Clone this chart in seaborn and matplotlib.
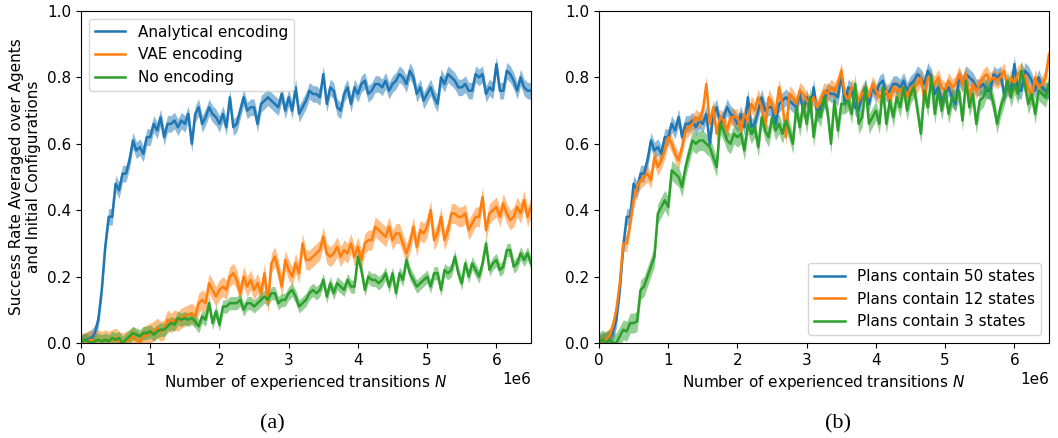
import numpy as np
import pandas as pd
import matplotlib
matplotlib.use("Agg")
import matplotlib.pyplot as plt
import seaborn as sns

# x grid: one evaluation every 50k transitions, 0 .. 6.5e6
steps = np.linspace(0, 6.5e6, 131)

# ---- panel (a) ----
analytical = [
    0.00, 0.005, 0.01, 0.015, 0.03, 0.07, 0.16, 0.29, 0.38, 0.38,
    0.48, 0.46, 0.51, 0.51, 0.55, 0.61, 0.58, 0.59, 0.57, 0.62,
    0.62, 0.66, 0.64, 0.68, 0.62, 0.66, 0.66, 0.67, 0.65, 0.67,
    0.66, 0.69, 0.60, 0.69, 0.71, 0.66, 0.68, 0.71, 0.69, 0.68,
    0.66, 0.69, 0.65, 0.74, 0.65, 0.66, 0.70, 0.74, 0.70, 0.71,
    0.71, 0.66, 0.72, 0.73, 0.74, 0.73, 0.72, 0.71, 0.75, 0.70,
    0.74, 0.70, 0.77, 0.69, 0.71, 0.73, 0.76, 0.75, 0.75, 0.74,
    0.81, 0.72, 0.77, 0.76, 0.71, 0.70, 0.75, 0.77, 0.72, 0.77,
    0.75, 0.78, 0.79, 0.75, 0.76, 0.78, 0.78, 0.77, 0.79, 0.76,
    0.78, 0.79, 0.81, 0.80, 0.78, 0.82, 0.80, 0.75, 0.77, 0.73,
    0.75, 0.77, 0.74, 0.72, 0.80, 0.78, 0.81, 0.80, 0.79, 0.77,
    0.77, 0.78, 0.76, 0.76, 0.81, 0.80, 0.81, 0.75, 0.77, 0.76,
    0.84, 0.76, 0.76, 0.82, 0.81, 0.79, 0.76, 0.80, 0.77, 0.76,
    0.76,
]
vae = [
    0.00, 0.00, 0.005, 0.01, 0.005, 0.01, 0.005, 0.01, 0.005, 0.01,
    0.015, 0.005, 0.00, 0.005, 0.01, 0.02, 0.01, 0.00, 0.02, 0.025,
    0.03, 0.035, 0.045, 0.035, 0.04, 0.07, 0.06, 0.07, 0.065, 0.075,
    0.08, 0.085, 0.09, 0.08, 0.12, 0.13, 0.12, 0.18, 0.16, 0.14,
    0.16, 0.17, 0.16, 0.20, 0.21, 0.19, 0.15, 0.20, 0.17, 0.19,
    0.16, 0.18, 0.15, 0.21, 0.12, 0.24, 0.26, 0.22, 0.17, 0.25,
    0.22, 0.20, 0.24, 0.21, 0.30, 0.25, 0.25, 0.26, 0.27, 0.28,
    0.32, 0.27, 0.26, 0.27, 0.29, 0.26, 0.28, 0.27, 0.30, 0.26,
    0.29, 0.25, 0.30, 0.31, 0.31, 0.35, 0.34, 0.33, 0.32, 0.35,
    0.31, 0.33, 0.33, 0.30, 0.27, 0.30, 0.35, 0.29, 0.34, 0.33,
    0.35, 0.40, 0.31, 0.33, 0.38, 0.31, 0.34, 0.39, 0.39, 0.38,
    0.38, 0.39, 0.34, 0.36, 0.38, 0.38, 0.44, 0.34, 0.39, 0.40,
    0.41, 0.38, 0.42, 0.39, 0.37, 0.38, 0.41, 0.39, 0.43, 0.38,
    0.41,
]
no_enc = [
    0.00, 0.01, 0.005, 0.00, 0.005, 0.01, 0.005, 0.01, 0.005, 0.015,
    0.01, 0.015, 0.00, 0.01, 0.02, 0.03, 0.025, 0.02, 0.03, 0.03,
    0.035, 0.025, 0.035, 0.04, 0.04, 0.05, 0.06, 0.055, 0.075, 0.07,
    0.075, 0.07, 0.075, 0.065, 0.05, 0.08, 0.07, 0.12, 0.06, 0.095,
    0.055, 0.11, 0.11, 0.12, 0.12, 0.12, 0.13, 0.10, 0.12, 0.12,
    0.11, 0.12, 0.13, 0.14, 0.13, 0.15, 0.15, 0.12, 0.13, 0.13,
    0.15, 0.16, 0.14, 0.11, 0.12, 0.13, 0.15, 0.16, 0.15, 0.16,
    0.19, 0.14, 0.18, 0.15, 0.18, 0.17, 0.16, 0.19, 0.17, 0.17,
    0.26, 0.22, 0.16, 0.20, 0.19, 0.19, 0.18, 0.19, 0.21, 0.17,
    0.21, 0.15, 0.21, 0.19, 0.25, 0.21, 0.19, 0.17, 0.18, 0.19,
    0.20, 0.17, 0.21, 0.21, 0.16, 0.22, 0.21, 0.22, 0.26, 0.21,
    0.18, 0.24, 0.20, 0.24, 0.22, 0.20, 0.24, 0.30, 0.22, 0.24,
    0.25, 0.22, 0.23, 0.28, 0.28, 0.23, 0.24, 0.27, 0.25, 0.27,
    0.24,
]

# ---- panel (b) ----  (50-state run is the analytical run from panel a)
plans50 = analytical
plans12 = [
    0.00, 0.00, 0.01, 0.02, 0.05, 0.10, 0.18, 0.30, 0.30, 0.36,
    0.43, 0.47, 0.49, 0.50, 0.51, 0.49, 0.56, 0.53, 0.55, 0.58,
    0.62, 0.60, 0.57, 0.55, 0.59, 0.64, 0.65, 0.66, 0.68, 0.67,
    0.70, 0.78, 0.66, 0.71, 0.63, 0.68, 0.67, 0.64, 0.68, 0.68,
    0.68, 0.64, 0.69, 0.67, 0.72, 0.70, 0.74, 0.71, 0.65, 0.74,
    0.72, 0.69, 0.77, 0.72, 0.62, 0.75, 0.74, 0.72, 0.76, 0.75,
    0.73, 0.72, 0.74, 0.71, 0.73, 0.76, 0.75, 0.77, 0.76, 0.78,
    0.82, 0.75, 0.73, 0.77, 0.76, 0.73, 0.75, 0.76, 0.74, 0.78,
    0.76, 0.74, 0.75, 0.76, 0.73, 0.77, 0.76, 0.76, 0.77, 0.74,
    0.77, 0.77, 0.78, 0.80, 0.73, 0.80, 0.79, 0.78, 0.80, 0.77,
    0.76, 0.79, 0.77, 0.78, 0.81, 0.78, 0.81, 0.74, 0.78, 0.76,
    0.78, 0.80, 0.81, 0.79, 0.80, 0.79, 0.80, 0.82, 0.77, 0.80,
    0.78, 0.81, 0.82, 0.80, 0.77, 0.74, 0.80, 0.77, 0.78, 0.80,
    0.87,
]
plans3 = [
    0.00, 0.01, 0.00, 0.01, 0.00, 0.00, 0.02, 0.04, 0.035, 0.06,
    0.06, 0.065, 0.16, 0.17, 0.20, 0.23, 0.26, 0.39, 0.41, 0.43,
    0.41, 0.52, 0.51, 0.50, 0.47, 0.53, 0.57, 0.61, 0.60, 0.61,
    0.61, 0.60, 0.59, 0.56, 0.53, 0.66, 0.64, 0.61, 0.60, 0.63,
    0.62, 0.63, 0.58, 0.66, 0.63, 0.65, 0.59, 0.68, 0.64, 0.62,
    0.68, 0.64, 0.66, 0.63, 0.67, 0.64, 0.60, 0.71, 0.65, 0.72,
    0.66, 0.74, 0.62, 0.70, 0.68, 0.74, 0.70, 0.60, 0.73, 0.64,
    0.72, 0.72, 0.73, 0.69, 0.78, 0.66, 0.68, 0.77, 0.66, 0.68,
    0.70, 0.66, 0.77, 0.66, 0.73, 0.68, 0.74, 0.71, 0.77, 0.70,
    0.75, 0.77, 0.70, 0.63, 0.76, 0.71, 0.80, 0.69, 0.76, 0.70,
    0.76, 0.69, 0.74, 0.73, 0.76, 0.67, 0.79, 0.71, 0.75, 0.66,
    0.73, 0.74, 0.77, 0.76, 0.72, 0.66, 0.71, 0.74, 0.79, 0.74,
    0.78, 0.75, 0.82, 0.78, 0.72, 0.75, 0.69, 0.76, 0.75, 0.74,
    0.78,
]

# half width of the shaded band (spread over agents / configurations)
spread_a = [0.025, 0.03, 0.02]
spread_b = [0.025, 0.025, 0.03]

labels_a = ["Analytical encoding", "VAE encoding", "No encoding"]
labels_b = ["Plans contain 50 states", "Plans contain 12 states", "Plans contain 3 states"]
colors = ["#1f77b4", "#ff7f0e", "#2ca02c"]

FS = 11

fig = plt.figure(figsize=(10.58, 4.38), dpi=100)
ax_a = fig.add_axes([81 / 1058, 1 - 343 / 438, 450 / 1058, 332 / 438])
ax_b = fig.add_axes([599 / 1058, 1 - 343 / 438, 450 / 1058, 332 / 438])


def draw_panel(ax, series, labels, spreads):
    for y, lab, c, s in zip(series, labels, colors, spreads):
        y = np.asarray(y)
        ax.fill_between(steps, y - s, y + s, color=c, alpha=0.5, linewidth=0)
        sns.lineplot(x=steps, y=y, ax=ax, color=c, label=lab, linewidth=1.8)
    ax.set_xlim(0, 6.5e6)
    ax.set_ylim(0, 1.0)
    ax.set_xlabel("Number of experienced transitions $N$", fontsize=FS)
    ax.tick_params(labelsize=FS)
    ax.xaxis.get_offset_text().set_fontsize(FS)


draw_panel(ax_a, [analytical, vae, no_enc], labels_a, spread_a)
draw_panel(ax_b, [plans50, plans12, plans3], labels_b, spread_b)

ax_a.set_ylabel("Success Rate Averaged over Agents\nand Initial Configurations", fontsize=FS)
ax_b.set_ylabel("")
ax_a.legend(loc="upper left", fontsize=FS)
ax_b.legend(loc="lower right", fontsize=FS)

fig.text(272 / 1058, 1 - 424 / 438, "(a)", ha="center", va="center",
         fontsize=16, family="Liberation Serif")
fig.text(838 / 1058, 1 - 424 / 438, "(b)", ha="center", va="center",
         fontsize=16, family="Liberation Serif")

fig.savefig("out.png", dpi=100)
